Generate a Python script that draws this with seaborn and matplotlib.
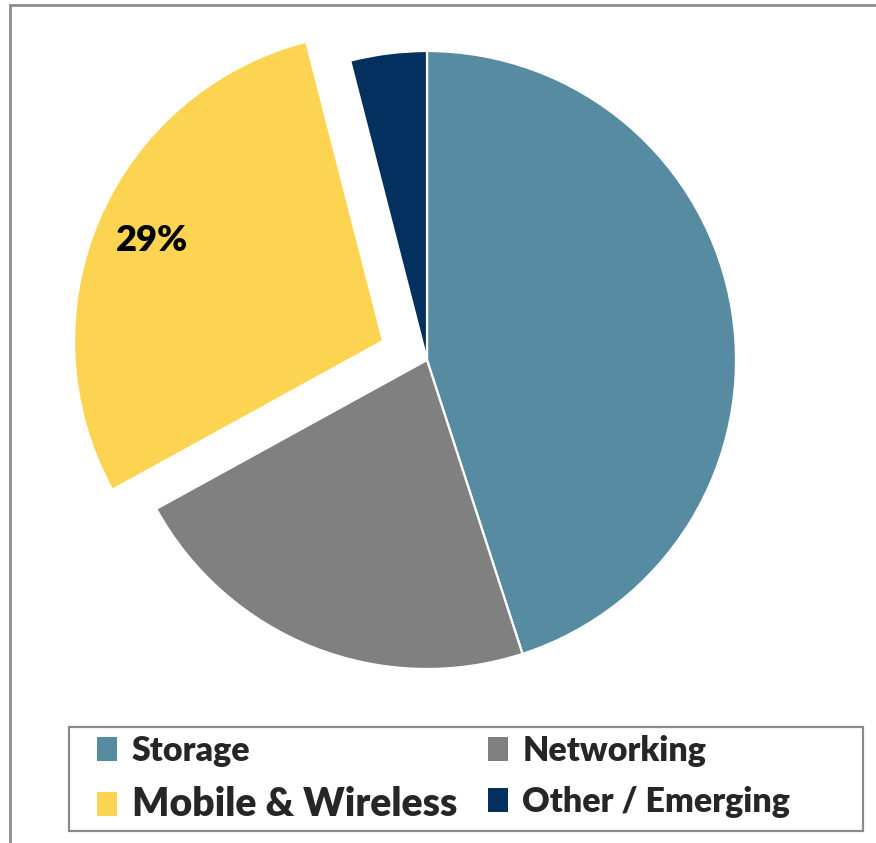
import matplotlib
matplotlib.use("Agg")
import matplotlib.pyplot as plt
import matplotlib.patches as mpatches
import seaborn as sns
import math

categories = ["Storage", "Networking", "Mobile & Wireless", "Other / Emerging"]
shares = [45, 22, 29, 4]
colors = ["#578BA2", "#808080", "#FDD452", "#03305F"]
explode = [0, 0, 0.155, 0]
shown_label = "Mobile & Wireless"

sns.set_theme(style="white")
plt.rcParams["font.family"] = ["Lato", "DejaVu Sans"]

W, H = 876, 843
fig = plt.figure(figsize=(W / 100, H / 100), dpi=100)
fig.patch.set_facecolor("white")

R = 309.0
cx, cy = 427.0, H - 360.0
ax = fig.add_axes([0, 0, 1, 1])

wedges, texts = ax.pie(
    shares, colors=colors, explode=explode, startangle=90, counterclock=False,
    wedgeprops=dict(edgecolor="white", linewidth=1.6),
)
ax.set_xlim(-cx / R, (W - cx) / R)
ax.set_ylim(-cy / R, (H - cy) / R)
ax.set_aspect("equal")
ax.axis("off")

# percentage label on the exploded slice
idx = categories.index(shown_label)
start = 90.0 - sum(shares[:idx]) / 100 * 360
mid = math.radians(start - shares[idx] / 100 * 360 / 2)
dist = explode[idx] + 0.815
ax.text(dist * math.cos(mid), dist * math.sin(mid), f"{shares[idx]}%",
        ha="center", va="center", fontsize=26, fontweight="heavy", color="black")

# outer figure border (only top and left visible)
fig.patches.append(mpatches.Rectangle((9.5 / W, -0.1), 2.0, 1 - 5.5 / H + 0.1,
                                      transform=fig.transFigure, fill=False,
                                      edgecolor="#8C8C8C", linewidth=2.0))
# legend frame
lx0, ly0, lx1, ly1 = 69, 727, 863, 831
fig.patches.append(mpatches.Rectangle((lx0 / W, 1 - ly1 / H), (lx1 - lx0) / W, (ly1 - ly0) / H,
                                      transform=fig.transFigure, fill=False,
                                      edgecolor="#8A8A8A", linewidth=1.6))

order = [0, 2, 1, 3]
handles = [mpatches.Patch(facecolor=colors[i], edgecolor="none") for i in order]
labels = [categories[i] for i in order]
leg = fig.legend(handles, labels, ncol=2, frameon=False, loc="upper left",
                 bbox_to_anchor=(97 / W, 1 - 735 / H), fontsize=24.5,
                 handlelength=0.6, handleheight=0.72, handletextpad=0.42,
                 columnspacing=0.9, labelspacing=0.55, borderpad=0.0, borderaxespad=0)
for t in leg.get_texts():
    t.set_fontweight("heavy")
    if t.get_text() == "Mobile & Wireless":
        t.set_fontsize(28.2)

fig.savefig("out.png", dpi=100, facecolor="white")
